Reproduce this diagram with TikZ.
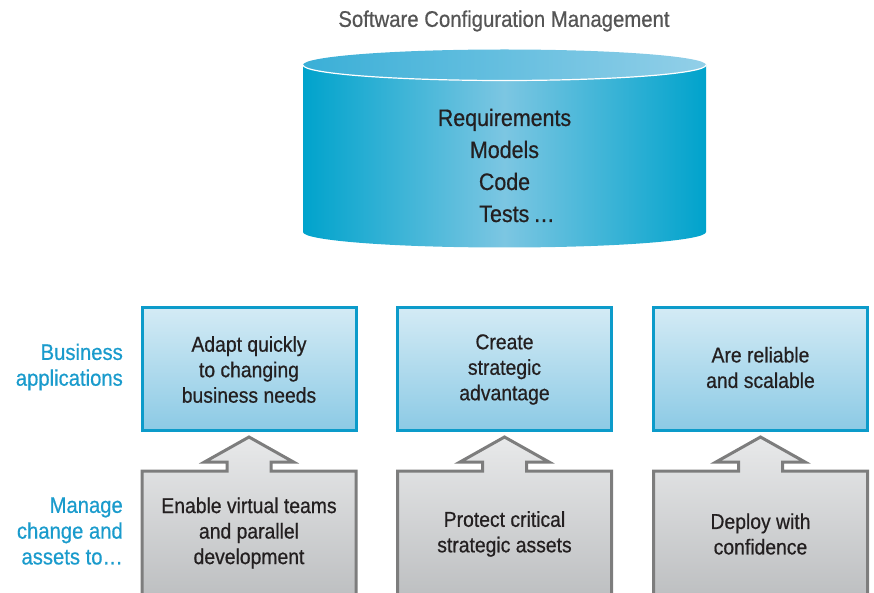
\documentclass[tikz,border=0pt]{standalone}
\usepackage{fontspec}
\setmainfont{Liberation Sans}[FakeStretch=0.9,FakeBold=0.6]
\definecolor{cyl}{HTML}{00A3CC}
\definecolor{cylmid}{HTML}{7CC6E2}
\definecolor{topl}{HTML}{3AAFD7}
\definecolor{topr}{HTML}{92CFE8}
\definecolor{bluebd}{HTML}{0C9BCA}
\definecolor{bluetop}{HTML}{D4EBF5}
\definecolor{bluebot}{HTML}{8CCAE5}
\definecolor{graybd}{HTML}{7D7D7D}
\definecolor{graytop}{HTML}{E8E9EA}
\definecolor{graybot}{HTML}{BBBDBF}
\definecolor{lbl}{HTML}{1A9BCC}
\definecolor{ttl}{HTML}{555555}
\definecolor{txt}{HTML}{231F20}
\begin{document}
\begin{tikzpicture}[x=1pt,y=-1pt,
  bluebox/.style={draw=bluebd,line width=3pt,top color=bluetop,bottom color=bluebot},
  grayshape/.style={draw=graybd,line width=3pt,top color=graytop,bottom color=graybot,line join=miter},
  boxtext/.style={text=txt,font=\fontsize{21.5}{25.5}\selectfont,align=center,inner sep=0pt},
  cyltext/.style={text=txt,font=\fontsize{23.8}{25}\selectfont,inner sep=0pt,anchor=base},
  sidelabel/.style={text=lbl,font=\fontsize{22.5}{25.8}\selectfont,align=right,inner sep=0pt,anchor=east}]
\useasboundingbox (0,0) rectangle (874,593);
% title
\node[text=ttl,font=\fontsize{22.6}{24}\selectfont,inner sep=0pt] (title) at (504,21) {Software Configuration Management};
% cylinder body
\shade[left color=cyl,right color=cyl,middle color=cylmid]
  (303,65) -- (303,232) arc[start angle=180,end angle=360,x radius=201.5,y radius=-15.5] -- (706,65) -- cycle;
% top ellipse
\shade[left color=topl,right color=topr] (504.5,65) ellipse[x radius=201.5,y radius=15.5];
\draw[white,line width=1.2pt] (303,65) arc[start angle=180,end angle=360,x radius=201.5,y radius=-15.5];
\node[cyltext] (req) at (504.5,126) {Requirements};
\node[cyltext] (mod) at (504.5,158) {Models};
\node[cyltext] (cod) at (504.5,190) {Code};
\node[cyltext] (tst) at (517,222) {Tests\,\ldots};
% blue boxes
\foreach \n/\x in {b1/142,b2/397.5,b3/653.5}{
  \draw[bluebox] (\x,307) rectangle ++(214,123);
}
\node[boxtext] (t1) at (249,369.5) {Adapt quickly\\to changing\\business needs};
\node[boxtext] (t2) at (504.5,369.5) {Create\\strategic\\advantage};
\node[boxtext] (t3) at (760.5,367.5) {Are reliable\\and scalable};
% gray boxes with arrows
\foreach \x in {142,397.5,653.5}{
  \pgfmathsetmacro{\c}{\x+107}
  \draw[grayshape] (\x,605) -- (\x,471) -- (\c-22,471) -- (\c-22,462) -- (\c-44.5,462)
     -- (\c,437) -- (\c+44.5,462) -- (\c+22,462) -- (\c+22,471) -- (\x+214,471) -- (\x+214,605);
}
\node[boxtext] (g1) at (249,533) {Enable virtual teams\\and parallel\\development};
\node[boxtext] (g2) at (504.5,534) {Protect critical\\strategic assets};
\node[boxtext] (g3) at (760.5,534) {Deploy with\\confidence};
% side labels
\node[sidelabel] (l1) at (123,367) {Business\\applications};
\node[sidelabel] (l2) at (123,531) {Manage\\change and\\assets to\ldots};
\end{tikzpicture}
\end{document}
